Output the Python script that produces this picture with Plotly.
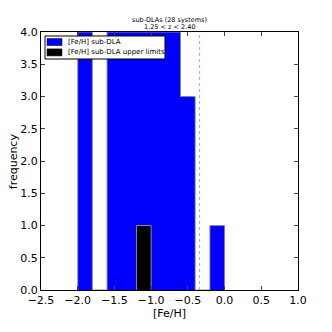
import plotly.graph_objects as go

# histogram bins ([Fe/H], width 0.2)
bin_edges = [-2.0, -1.8, -1.6, -1.4, -1.2, -1.0, -0.8, -0.6, -0.4, -0.2, 0.0]
counts_subdla = [4, 0, 4, 4, 4, 4, 4, 3, 0, 1]
counts_limits = [0, 0, 0, 0, 1, 0, 0, 0, 0, 0]
vline_x = -0.34

xticks = [-2.5, -2.0, -1.5, -1.0, -0.5, 0.0, 0.5, 1.0]
yticks = [0.0, 0.5, 1.0, 1.5, 2.0, 2.5, 3.0, 3.5, 4.0]

series_names = ['[Fe/H] sub-DLA', '[Fe/H] sub-DLA upper limits']
series_colors = ['#0000ff', 'black']
title_lines = ['sub-DLAs (28 systems)', '1.25 < z < 2.40']


def step_outline(edges, counts):
    # stepfilled-style outline, no lines between adjacent bins
    xs, ys = [edges[0]], [0]
    for i, c in enumerate(counts):
        xs += [edges[i], edges[i + 1]]
        ys += [c, c]
    xs.append(edges[-1])
    ys.append(0)
    return xs, ys


centers = [(bin_edges[i] + bin_edges[i + 1]) / 2 for i in range(len(counts_subdla))]
widths = [bin_edges[i + 1] - bin_edges[i] for i in range(len(counts_subdla))]

fig = go.Figure()
for name, counts, col in zip(series_names, [counts_subdla, counts_limits], series_colors):
    fig.add_trace(go.Bar(name=name, x=centers, y=counts, width=widths, showlegend=False,
                         marker=dict(color=col, line=dict(width=0))))

ox, oy = step_outline(bin_edges, counts_subdla)
fig.add_trace(go.Scatter(x=ox, y=oy, mode='lines', line=dict(color='#888888', width=1),
                         showlegend=False, hoverinfo='skip'))
ox, oy = step_outline(bin_edges[4:6], counts_limits[4:5])
fig.add_trace(go.Scatter(x=ox, y=oy, mode='lines', line=dict(color='#888888', width=1),
                         showlegend=False, hoverinfo='skip'))

fig.add_shape(type='line', x0=vline_x, x1=vline_x, y0=0, y1=1, xref='x', yref='paper',
              line=dict(color='#aaaaaa', width=1, dash='dot'))

# compact matplotlib-like legend box
fig.add_shape(type='rect', xref='paper', yref='paper', x0=0.0156, x1=0.4825, y0=0.8953, y1=0.9845,
              line=dict(color='black', width=1), fillcolor='white', layer='above')
for i, (name, col) in enumerate(zip(series_names, series_colors)):
    yc = 0.961 - i * 0.040
    fig.add_shape(type='rect', xref='paper', yref='paper', x0=0.0233, x1=0.0817,
                  y0=yc - 0.0136, y1=yc + 0.0136, fillcolor=col,
                  line=dict(color='black', width=0.5), layer='above')
    fig.add_annotation(text=name, xref='paper', yref='paper', x=0.099, y=yc, xanchor='left',
                       yanchor='middle', showarrow=False, font=dict(size=7))

# two-line title and axis titles
for i, t in enumerate(title_lines):
    fig.add_annotation(text=t, xref='paper', yref='paper', x=0.5, y=1.045 - i * 0.027,
                       xanchor='center', yanchor='middle', showarrow=False, font=dict(size=6.5))
fig.add_annotation(text='[Fe/H]', xref='paper', yref='paper', x=0.5, y=-0.092,
                   xanchor='center', yanchor='middle', showarrow=False, font=dict(size=11))
fig.add_annotation(text='frequency', xref='paper', yref='paper', x=-0.108, y=0.5, textangle=-90,
                   xanchor='center', yanchor='middle', showarrow=False, font=dict(size=11))

# page body has an 8px margin, so the figure is shrunk by 8px and margins shifted
fig.update_layout(
    width=324, height=324,
    barmode='overlay', bargap=0,
    paper_bgcolor='white', plot_bgcolor='white',
    font=dict(family='DejaVu Sans', color='black', size=11),
    margin=dict(l=33, r=34, t=24, b=42),
    showlegend=False,
    xaxis=dict(range=[-2.5, 1.0], tickvals=xticks, tickformat='.1f', ticks='inside',
               ticklen=4, showgrid=False, zeroline=False, showline=True, linecolor='black',
               linewidth=1, mirror='allticks', tickfont=dict(size=11), automargin=False),
    yaxis=dict(range=[0, 4.0], tickvals=yticks, tickformat='.1f', ticks='inside',
               ticklen=4, showgrid=False, zeroline=False, showline=True, linecolor='black',
               linewidth=1, mirror='allticks', tickfont=dict(size=11), automargin=False),
)

fig.write_html("out.html")
